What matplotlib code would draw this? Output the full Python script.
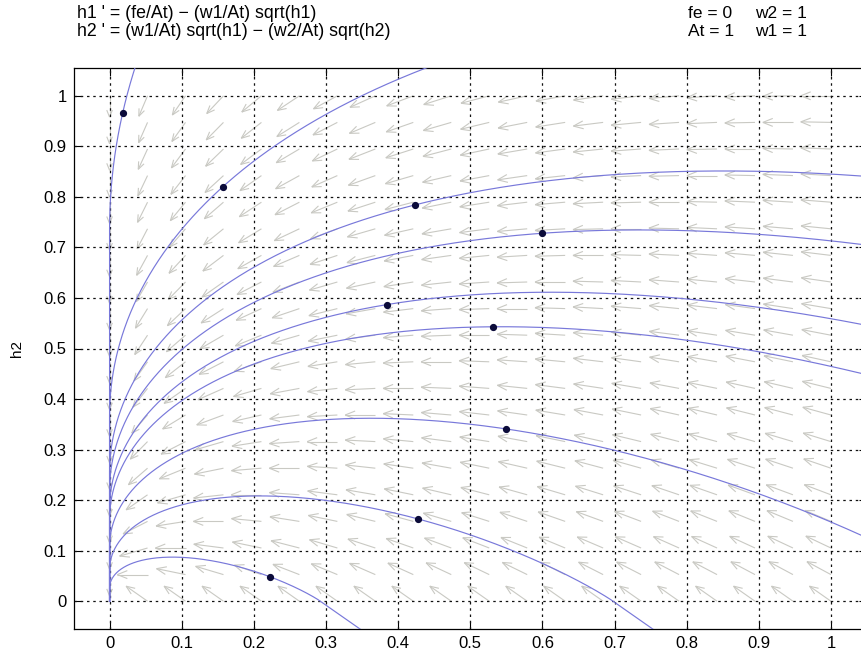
import numpy as np
import matplotlib.pyplot as plt
from matplotlib.collections import LineCollection

plt.rcParams['font.family'] = ['Liberation Sans', 'DejaVu Sans']

# system parameters (as printed on the figure)
fe, At, w1, w2 = 0, 1, 1, 1

# initial points of the drawn solutions (the black dots)
h1_start = [0.018, 0.157, 0.423, 0.600, 0.385, 0.531, 0.549, 0.427, 0.223]
h2_start = [0.965, 0.820, 0.784, 0.728, 0.587, 0.543, 0.341, 0.163, 0.048]

# display window and direction-field grid
x_lim = (-0.05, 1.05)
y_lim = (-0.055, 1.055)
n_arrows = 20
ticks = np.round(np.arange(0, 1.01, 0.1), 1)
tick_labels = ['0'] + ['%.1f' % t for t in ticks[1:-1]] + ['1']


def field(h1, h2):
    r1 = np.sqrt(np.maximum(h1, 0.0))
    r2 = np.sqrt(np.maximum(h2, 0.0))
    return fe / At - w1 / At * r1, w1 / At * r1 - w2 / At * r2


def solve(p0, dt, nsteps):
    pts = [np.array(p0, dtype=float)]
    f = lambda p: np.array(field(p[0], p[1]))
    for _ in range(nsteps):
        p = pts[-1]
        k1 = f(p)
        k2 = f(p + dt / 2 * k1)
        k3 = f(p + dt / 2 * k2)
        k4 = f(p + dt * k3)
        q = p + dt / 6 * (k1 + 2 * k2 + 2 * k3 + k4)
        pts.append(q)
        if q[0] > 1.2 or q[1] > 1.2 or q[1] < -0.2:
            break
        if abs(q[0]) < 1e-9 and abs(q[1]) < 1e-9:
            break
    return np.array(pts)


fig = plt.figure(figsize=(8.61, 6.53), dpi=100)
W, H = 861, 653
ax_pos = [73.5 / W, 24 / H, 793.5 / W, 561 / H]
ax = fig.add_axes(ax_pos)
ax.set_xlim(*x_lim)
ax.set_ylim(*y_lim)

# direction field, arrows anchored at their tails like MATLAB quiver
wpx, hpx = ax_pos[2] * W, ax_pos[3] * H
sx = wpx / (x_lim[1] - x_lim[0])
sy = hpx / (y_lim[1] - y_lim[0])
gx, gy = np.meshgrid(np.linspace(0, 1, n_arrows), np.linspace(0, 1, n_arrows))
u, v = field(gx, gy)
a = u / (x_lim[1] - x_lim[0])
b = v / (y_lim[1] - y_lim[0])
nrm = np.hypot(a, b)
ok = nrm > 1e-12
L = 0.038
dxp = np.where(ok, L * wpx * a / np.where(ok, nrm, 1), 0)
dyp = np.where(ok, L * hpx * b / np.where(ok, nrm, 1), 0)
alpha, beta = 0.33, 0.4
segs = []
for x0, y0, dx, dy, good in zip(gx.ravel(), gy.ravel(), dxp.ravel(), dyp.ravel(), ok.ravel()):
    if not good:
        continue
    tip = (x0 + dx / sx, y0 + dy / sy)
    segs.append([(x0, y0), tip])
    for s in (1, -1):
        hx = dx - alpha * (dx + s * beta * dy)
        hy = dy - alpha * (dy - s * beta * dx)
        segs.append([(x0 + hx / sx, y0 + hy / sy), tip])
ax.add_collection(LineCollection(segs, colors='#c9c9c3', linewidths=0.8, zorder=1))

# grid
for t in ticks:
    ax.axvline(t, color='#111111', lw=0.9, ls=(0, (2, 3)), zorder=2)
    ax.axhline(t, color='#111111', lw=0.9, ls=(0, (2, 3)), zorder=2)

# solution curves through each initial point
for p0 in zip(h1_start, h2_start):
    fwd = solve(p0, 0.002, 3500)
    bwd = solve(p0, -0.002, 3500)
    path = np.vstack([bwd[::-1], fwd[1:]])
    ax.plot(path[:, 0], path[:, 1], color='#7878da', lw=0.85, zorder=3)
ax.plot(h1_start, h2_start, 'o', color='#0b0b3a', ms=4.2, zorder=4)

ax.set_xticks(ticks)
ax.set_xticklabels(tick_labels)
ax.set_yticks(ticks)
ax.set_yticklabels(tick_labels)
ax.tick_params(direction='in', length=6, width=0.8, top=True, right=True,
               labelsize=12, pad=5)
for sp in ax.spines.values():
    sp.set_linewidth(0.9)
ax.set_ylabel('h2', fontsize=11, labelpad=14)

# equations and parameters above the axes
fig.text(77 / W, 1 - 14 / H, "h1 ' = (fe/At) \u2212 (w1/At) sqrt(h1)", fontsize=12.8, va='center')
fig.text(77 / W, 1 - 31 / H, "h2 ' = (w1/At) sqrt(h1) \u2212 (w2/At) sqrt(h2)", fontsize=12.8, va='center')
fig.text(688 / W, 1 - 14 / H, 'fe = 0', fontsize=12.5, va='center')
fig.text(755 / W, 1 - 14 / H, 'w2 = 1', fontsize=12.5, va='center')
fig.text(688 / W, 1 - 31 / H, 'At = 1', fontsize=12.5, va='center')
fig.text(755 / W, 1 - 31 / H, 'w1 = 1', fontsize=12.5, va='center')

fig.savefig('out.png', dpi=100)
